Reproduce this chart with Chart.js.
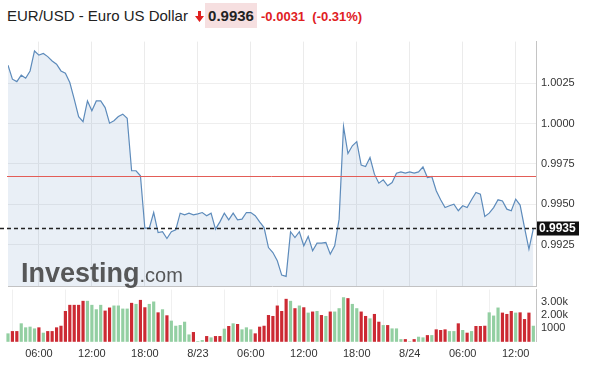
<!DOCTYPE html>
<html>
<head>
<meta charset="utf-8">
<script src="https://cdn.jsdelivr.net/npm/chart.js@4.4.0/dist/chart.umd.min.js"></script>
<style>
  body { margin: 0; background: #fff; font-family: Arial, "Liberation Sans", sans-serif; }
  #wrap { position: relative; width: 590px; height: 369px; overflow: hidden; }
  #head { position: absolute; left: 7px; top: 3px; height: 25px; white-space: nowrap; }
  #head .name { position: absolute; left: 0; top: 4px; font-size: 15px; color: #222; }
  #head .arrow { position: absolute; left: 188px; top: 8px; }
  #head .last { position: absolute; left: 198px; top: 0; height: 25px; width: 52px; background: #f6dfe0;
                font-size: 15px; font-weight: bold; color: #222; line-height: 25px; text-align: center; }
  #head .chg { position: absolute; left: 254px; top: 6px; font-size: 13px; font-weight: bold; color: #e0201f; }
  #priceBox { position: absolute; left: 0; top: 30px; }
  #volBox { position: absolute; left: 0; top: 278px; }
  #mark { position: absolute; left: 21px; top: 258px; color: rgba(60,60,60,0.85); white-space: nowrap; }
  #mark b { font-size: 27px; }
  #mark span { font-size: 20px; font-weight: normal; }
</style>
</head>
<body>
<div id="wrap">
  <div id="head">
    <span class="name">EUR/USD - Euro US Dollar</span>
    <svg class="arrow" width="9" height="11" viewBox="0 0 9 11"><polygon points="3,0 6,0 6,5 9,5 4.5,11 0,5 3,5" fill="#e0201f"/></svg>
    <span class="last">0.9936</span>
    <span class="chg">-0.0031&nbsp; (-0.31%)</span>
  </div>
  <div id="priceBox"><canvas id="priceChart" width="590" height="268"></canvas></div>
  <div id="volBox"><canvas id="volChart" width="590" height="98"></canvas></div>
  <div id="mark"><b>Investing</b><span>.com</span></div>
</div>
<script>
// 30-minute bars starting 8/22 02:30 (hours counted from 8/22 00:00)
const startHour = 2.5;
const stepHours = 0.5;

const prices = [
  1.00362, 1.00275, 1.00260, 1.00300, 1.00281, 1.00326, 1.00450, 1.00424, 1.00434, 1.00415,
  1.00388, 1.00368, 1.00326, 1.00312, 1.00254, 1.00151, 1.00043, 1.00012, 1.00140, 1.00079,
  1.00140, 1.00140, 1.00099, 1.00002, 1.00017, 1.00043, 1.00058, 1.00033, 0.99707, 0.99707,
  0.99676, 0.99351, 0.99351, 0.99448, 0.99324, 0.99329, 0.99287, 0.99329, 0.99341, 0.99444,
  0.99434, 0.99444, 0.99434, 0.99440, 0.99448, 0.99428, 0.99444, 0.99345, 0.99390, 0.99444,
  0.99403, 0.99444, 0.99403, 0.99407, 0.99448, 0.99448, 0.99428, 0.99390, 0.99355, 0.99231,
  0.99200, 0.99149, 0.99060, 0.99052, 0.99329, 0.99293, 0.99329, 0.99242, 0.99300, 0.99211,
  0.99258, 0.99258, 0.99262, 0.99190, 0.99242, 0.99407, 0.99981, 0.99814, 0.99862, 0.99888,
  0.99742, 0.99733, 0.99789, 0.99686, 0.99630, 0.99651, 0.99614, 0.99634, 0.99692, 0.99700,
  0.99692, 0.99700, 0.99692, 0.99700, 0.99731, 0.99665, 0.99671, 0.99583, 0.99527, 0.99479,
  0.99490, 0.99500, 0.99459, 0.99490, 0.99479, 0.99527, 0.99572, 0.99562, 0.99424, 0.99444,
  0.99479, 0.99527, 0.99520, 0.99469, 0.99459, 0.99531, 0.99494, 0.99355, 0.99221, 0.99349
];

const volumes = [
  630, 800, 800, 1380, 1080, 1130, 1000, 1080, 680, 800,
  800, 1080, 1200, 2300, 2760, 2760, 2760, 3060, 3060, 2760,
  2430, 2760, 2330, 2560, 2710, 2710, 2480, 2480, 2910, 2830,
  3130, 2580, 2830, 3010, 2200, 2430, 1980, 1580, 1200, 1250,
  1500, 550, 730, 50, 130, 430, 330, 430, 430, 980,
  1180, 1380, 1330, 930, 1080, 930, 630, 1130, 1200, 2000,
  1930, 2710, 2300, 3210, 3060, 2510, 2710, 2580, 2180, 2260,
  2300, 2000, 1930, 2260, 2260, 2510, 3330, 3260, 2830, 2510,
  2260, 1930, 1750, 2080, 1500, 1250, 1250, 1000, 1000, 200,
  200, 40, 200, 380, 330, 500, 500, 930, 880, 930,
  800, 800, 1380, 880, 680, 800, 1180, 1180, 1200, 2200,
  1960, 2560, 2180, 2080, 2300, 2180, 2200, 1700, 2180, 1200
];

// 1 = green (up) bar, 0 = red (down) bar
const volumeUp = [
  1, 0, 0, 1, 1, 1, 1, 0, 1, 0,
  0, 0, 0, 0, 0, 0, 0, 0, 1, 1,
  1, 1, 0, 0, 1, 1, 1, 1, 0, 1,
  0, 0, 1, 1, 0, 1, 0, 1, 1, 1,
  1, 1, 0, 1, 1, 0, 1, 0, 0, 1,
  0, 1, 0, 1, 1, 1, 0, 0, 0, 0,
  0, 0, 0, 0, 1, 0, 1, 0, 1, 0,
  1, 0, 1, 0, 1, 1, 1, 0, 1, 1,
  0, 0, 1, 0, 0, 1, 0, 1, 1, 1,
  0, 1, 0, 1, 1, 0, 1, 0, 0, 0,
  1, 1, 0, 1, 0, 1, 0, 0, 0, 1,
  1, 1, 0, 0, 0, 1, 0, 0, 0, 1
];

const timeTickHours = [6, 12, 18, 24, 30, 36, 42, 48, 54, 60];
const timeTickLabels = ['06:00', '12:00', '18:00', '8/23', '06:00', '12:00', '18:00', '8/24', '06:00', '12:00'];
const priceTicks = [0.9925, 0.9950, 0.9975, 1.0000, 1.0025];
const volTicks = [1000, 2000, 3000];
const volTickLabels = ['1000', '2.00k', '3.00k'];

const prevClose = 0.99675;
const lastPrice = 0.9935;

const xMin = 2.5, xMax = 62.3;
const axisFont = { family: 'Arial, "Liberation Sans", sans-serif', size: 11 };

const pricePoints = prices.map((p, i) => ({ x: startHour + i * stepHours, y: p }));
const volPoints = volumes.map((v, i) => ({ x: startHour + i * stepHours, y: v }));

// previous close line, last price dashed line and its label box
const refLines = {
    id: 'refLines',
    afterDatasetsDraw(chart) {
        const { ctx, chartArea, scales } = chart;
        const yRed = Math.round(scales.y.getPixelForValue(prevClose)) + 0.5;
        const yLast = Math.round(scales.y.getPixelForValue(lastPrice)) + 0.5;
        ctx.save();
        ctx.strokeStyle = '#e35d57';
        ctx.lineWidth = 1;
        ctx.beginPath();
        ctx.moveTo(chartArea.left - 1, yRed);
        ctx.lineTo(chartArea.right, yRed);
        ctx.stroke();

        ctx.strokeStyle = '#222';
        ctx.lineWidth = 1.5;
        ctx.setLineDash([4, 3]);
        ctx.beginPath();
        ctx.moveTo(0, yLast);
        ctx.lineTo(chartArea.right, yLast);
        ctx.stroke();
        ctx.setLineDash([]);

        ctx.fillStyle = '#111';
        ctx.fillRect(chartArea.right + 1, yLast - 7, 42, 14);
        ctx.fillStyle = '#fff';
        ctx.font = 'bold 12px Arial, "Liberation Sans", sans-serif';
        ctx.textBaseline = 'middle';
        ctx.textAlign = 'left';
        ctx.fillText(lastPrice.toFixed(4), chartArea.right + 3, yLast + 0.5);
        ctx.restore();
    }
};

new Chart(document.getElementById('priceChart'), {
    type: 'line',
    data: {
        datasets: [{
            data: pricePoints,
            borderColor: '#5d8bbb',
            borderWidth: 1.2,
            backgroundColor: 'rgba(70, 120, 180, 0.12)',
            fill: 'start',
            pointRadius: 0,
            tension: 0
        }]
    },
    options: {
        responsive: false,
        animation: false,
        layout: { padding: { left: 8, top: 10, right: 0, bottom: 2 } },
        plugins: { legend: { display: false }, tooltip: { enabled: false } },
        scales: {
            x: {
                type: 'linear',
                min: xMin,
                max: xMax,
                afterBuildTicks: s => { s.ticks = timeTickHours.map(v => ({ value: v })); },
                ticks: { display: false },
                grid: { color: '#ebebeb', drawTicks: false },
                border: { color: '#c4c4c4' }
            },
            y: {
                position: 'right',
                min: 0.9899,
                max: 1.00508,
                afterBuildTicks: s => { s.ticks = priceTicks.map(v => ({ value: v })); },
                afterFit: s => { s.width = 54; },
                ticks: {
                    font: axisFont,
                    color: '#333',
                    padding: 5,
                    callback: v => Number(v).toFixed(4)
                },
                grid: { color: '#eeeeee', drawTicks: false },
                border: { color: '#c4c4c4' }
            }
        }
    },
    plugins: [refLines]
});

new Chart(document.getElementById('volChart'), {
    type: 'bar',
    data: {
        datasets: [{
            data: volPoints,
            backgroundColor: volumeUp.map(u => u ? '#93cfa2' : '#cc2a33'),
            barPercentage: 0.72,
            categoryPercentage: 1,
            clip: false
        }]
    },
    options: {
        responsive: false,
        animation: false,
        layout: { padding: { left: 8, top: 0, right: 0, bottom: 9 } },
        plugins: { legend: { display: false }, tooltip: { enabled: false } },
        scales: {
            x: {
                type: 'linear',
                min: xMin,
                max: xMax,
                offset: false,
                afterBuildTicks: s => { s.ticks = timeTickHours.map(v => ({ value: v })); },
                ticks: {
                    font: axisFont,
                    color: '#333',
                    padding: 6,
                    maxRotation: 0,
                    callback: v => timeTickLabels[timeTickHours.indexOf(v)]
                },
                grid: { color: '#f0f0f0', drawTicks: false },
                border: { display: false }
            },
            y: {
                position: 'right',
                min: 0,
                max: 3900,
                afterBuildTicks: s => { s.ticks = volTicks.map(v => ({ value: v })); },
                afterFit: s => { s.width = 54; },
                ticks: {
                    font: axisFont,
                    color: '#333',
                    padding: 5,
                    callback: v => volTickLabels[volTicks.indexOf(v)]
                },
                grid: { display: false, drawTicks: false },
                border: { color: '#c4c4c4' }
            }
        }
    }
});
</script>
</body>
</html>
